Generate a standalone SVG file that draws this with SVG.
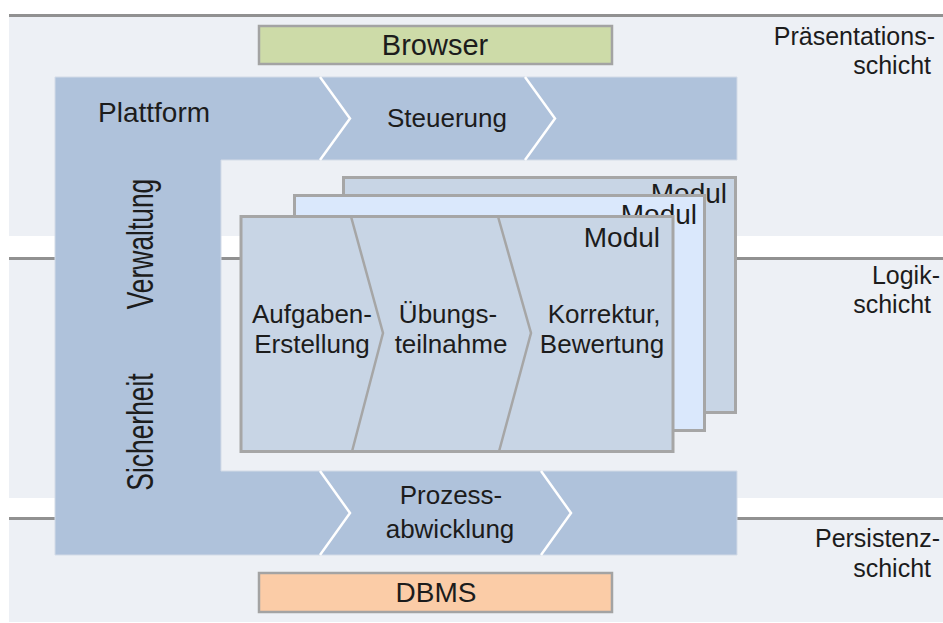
<svg xmlns="http://www.w3.org/2000/svg" width="943" height="623" viewBox="0 0 943 623">
<style>
text{font-family:"Liberation Sans",Arial,sans-serif;fill:#1c1c1c}
.band{fill:#edf0f5}
.sep{stroke:#919191;stroke-width:3;fill:none}
.plat{fill:#afc2db;stroke:#d3dbe7;stroke-width:1}
.chev{stroke:#ffffff;stroke-width:2.5;fill:none}
.mod{fill:#c8d5e5;stroke:#a6a6a6;stroke-width:3}
.mod2{fill:#dae8fc;stroke:#a6a6a6;stroke-width:3}
.mchev{stroke:#a6a6a6;stroke-width:2.5;fill:none}
.box{stroke:#a3a3a3;stroke-width:2.5}
.c{text-anchor:middle}
.e{text-anchor:end}
</style>
<rect width="943" height="623" fill="#ffffff"/>
<g id="layers">
<rect class="band" x="9" y="17" width="934" height="219"/>
<rect class="band" x="9" y="260" width="934" height="238"/>
<rect class="band" x="9" y="520" width="934" height="102"/>
<line class="sep" x1="9" y1="15.5" x2="943" y2="15.5"/>
<line class="sep" x1="9" y1="258.5" x2="943" y2="258.5"/>
<line class="sep" x1="9" y1="518.5" x2="943" y2="518.5"/>
<text class="e" x="935" y="45" font-size="25">Präsentations-</text>
<text class="e" x="931" y="74" font-size="25">schicht</text>
<text class="e" x="940" y="284" font-size="25">Logik-</text>
<text class="e" x="931" y="313" font-size="25">schicht</text>
<text class="e" x="940" y="547" font-size="25">Persistenz-</text>
<text class="e" x="931" y="577" font-size="25">schicht</text>
</g>
<g id="browser">
<rect class="box" x="259" y="26" width="353" height="38" fill="#cddba8"/>
<text class="c" x="435" y="55" font-size="29">Browser</text>
</g>
<g id="dbms">
<rect class="box" x="259" y="573" width="353" height="39" fill="#fbcca7"/>
<text class="c" x="436" y="602" font-size="28">DBMS</text>
</g>
<g id="plattform">
<path class="plat" d="M55,77 H737 V160 H221 V471 H737 V555 H55 Z"/>
<text x="98" y="122" font-size="28">Plattform</text>
<text transform="translate(153,244) rotate(-90) scale(1,1.4)" class="c" font-size="26.4">Verwaltung</text>
<text transform="translate(153,432) rotate(-90) scale(1,1.4)" class="c" font-size="26.4">Sicherheit</text>
</g>
<g id="steuerung">
<path class="chev" d="M320,77 L350,118.5 L320,160"/>
<path class="chev" d="M525,77 L555,118.5 L525,160"/>
<text class="c" x="447" y="127" font-size="26">Steuerung</text>
</g>
<g id="prozess">
<path class="chev" d="M320,471 L350,513 L320,555"/>
<path class="chev" d="M541,471 L571,513 L541,555"/>
<text class="c" x="451" y="504" font-size="26">Prozess-</text>
<text class="c" x="450" y="538" font-size="26">abwicklung</text>
</g>
<g id="modul3">
<rect class="mod" x="343.5" y="177.5" width="392" height="235"/>
<text class="e" x="727" y="203" font-size="28">Modul</text>
</g>
<g id="modul2">
<rect class="mod2" x="294.5" y="195.5" width="410" height="235"/>
<text class="e" x="697" y="224" font-size="28">Modul</text>
</g>
<g id="modul1">
<rect class="mod" x="241" y="216.5" width="432" height="235"/>
<path class="mchev" d="M351,216.5 L383,333 L352,451.5"/>
<path class="mchev" d="M498,216.5 L531,333 L499,451.5"/>
<text class="e" x="660" y="247" font-size="28">Modul</text>
<text class="c" x="312" y="323" font-size="26">Aufgaben-</text>
<text class="c" x="312" y="353" font-size="26">Erstellung</text>
<text class="c" x="448" y="323" font-size="26">Übungs-</text>
<text class="c" x="451" y="353" font-size="26">teilnahme</text>
<text class="c" x="604" y="323" font-size="26">Korrektur,</text>
<text class="c" x="602" y="353" font-size="26">Bewertung</text>
</g>
<g id="connectors"></g>
</svg>
